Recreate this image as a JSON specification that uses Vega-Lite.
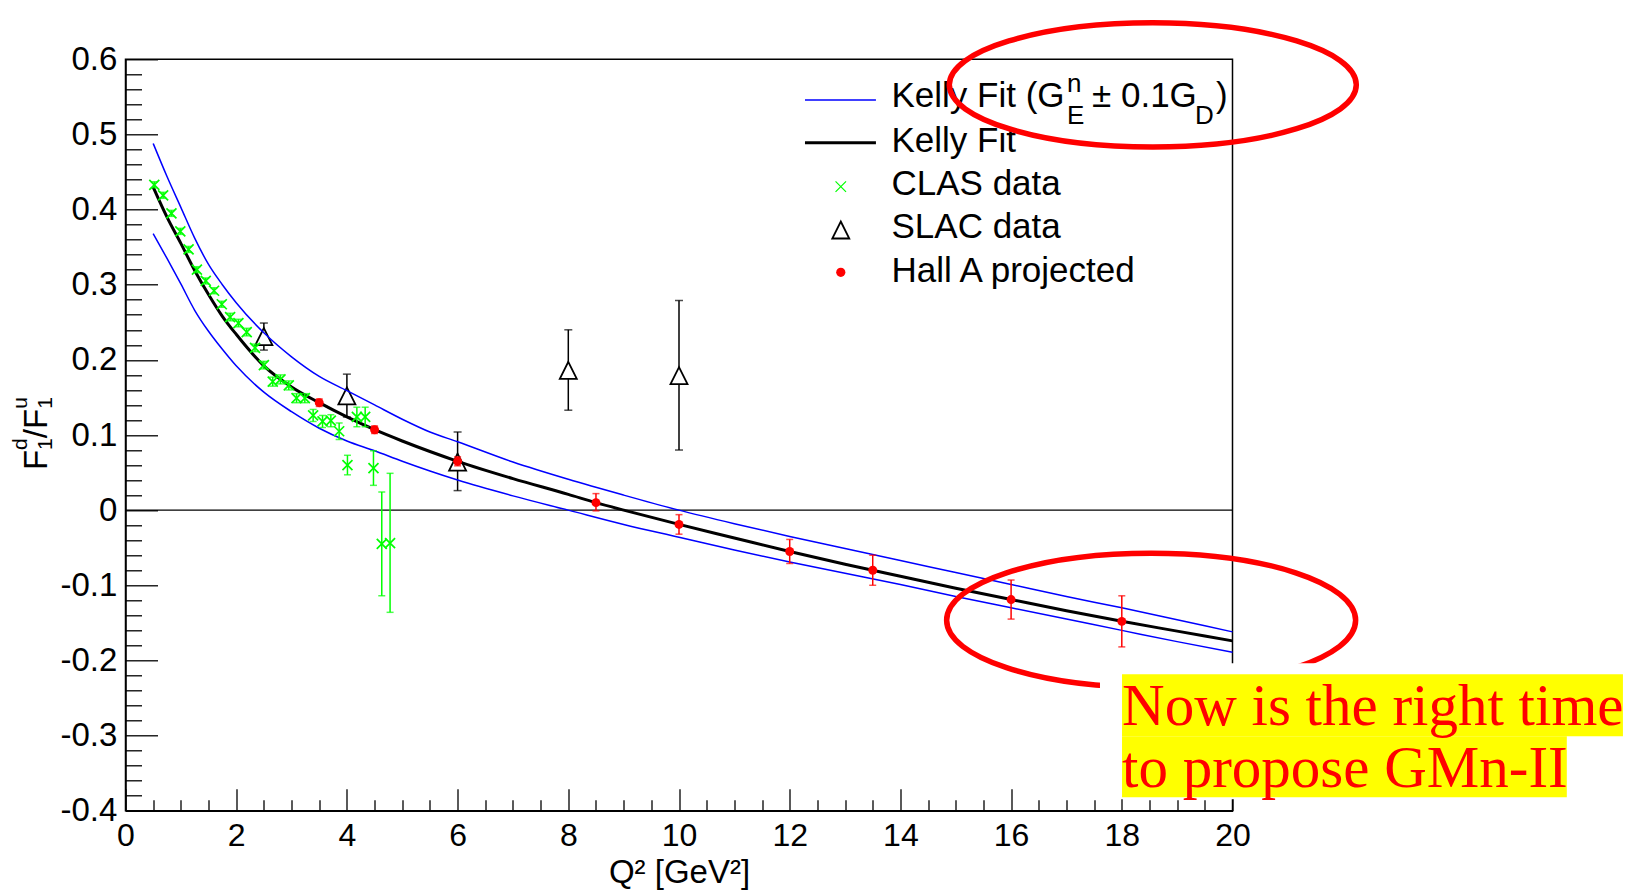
{
  "$schema": "https://vega.github.io/schema/vega-lite/v6.json",
  "width": 1107,
  "height": 751.4,
  "autosize": {"type": "none"},
  "padding": {"left": 125.5, "top": 59.3, "right": 411.5, "bottom": 82.3},
  "background": "white",
  "config": {"view": {"stroke": "black", "strokeWidth": 1.5}, "font": "Liberation Sans"},
  "resolve": {"axis": {"x": "independent", "y": "independent"}},
  "datasets": {
    "curves": [
      {"q2": 0.5, "r": 0.488, "series": "band", "curve": "upper"},
      {"q2": 0.75, "r": 0.444, "series": "band", "curve": "upper"},
      {"q2": 1.0, "r": 0.403, "series": "band", "curve": "upper"},
      {"q2": 1.25, "r": 0.362, "series": "band", "curve": "upper"},
      {"q2": 1.5, "r": 0.327, "series": "band", "curve": "upper"},
      {"q2": 1.75, "r": 0.300, "series": "band", "curve": "upper"},
      {"q2": 2.0, "r": 0.276, "series": "band", "curve": "upper"},
      {"q2": 2.5, "r": 0.236, "series": "band", "curve": "upper"},
      {"q2": 3.0, "r": 0.204, "series": "band", "curve": "upper"},
      {"q2": 3.5, "r": 0.178, "series": "band", "curve": "upper"},
      {"q2": 4.0, "r": 0.159, "series": "band", "curve": "upper"},
      {"q2": 4.5, "r": 0.140, "series": "band", "curve": "upper"},
      {"q2": 5.0, "r": 0.121, "series": "band", "curve": "upper"},
      {"q2": 5.5, "r": 0.104, "series": "band", "curve": "upper"},
      {"q2": 6.0, "r": 0.091, "series": "band", "curve": "upper"},
      {"q2": 7.0, "r": 0.064, "series": "band", "curve": "upper"},
      {"q2": 8.0, "r": 0.041, "series": "band", "curve": "upper"},
      {"q2": 9.0, "r": 0.020, "series": "band", "curve": "upper"},
      {"q2": 10.0, "r": 0.000, "series": "band", "curve": "upper"},
      {"q2": 11.0, "r": -0.018, "series": "band", "curve": "upper"},
      {"q2": 12.0, "r": -0.035, "series": "band", "curve": "upper"},
      {"q2": 13.0, "r": -0.051, "series": "band", "curve": "upper"},
      {"q2": 14.0, "r": -0.067, "series": "band", "curve": "upper"},
      {"q2": 15.0, "r": -0.083, "series": "band", "curve": "upper"},
      {"q2": 16.0, "r": -0.099, "series": "band", "curve": "upper"},
      {"q2": 17.0, "r": -0.115, "series": "band", "curve": "upper"},
      {"q2": 18.0, "r": -0.130, "series": "band", "curve": "upper"},
      {"q2": 19.0, "r": -0.146, "series": "band", "curve": "upper"},
      {"q2": 20.0, "r": -0.162, "series": "band", "curve": "upper"},
      {"q2": 0.5, "r": 0.368, "series": "band", "curve": "lower"},
      {"q2": 0.75, "r": 0.335, "series": "band", "curve": "lower"},
      {"q2": 1.0, "r": 0.301, "series": "band", "curve": "lower"},
      {"q2": 1.25, "r": 0.266, "series": "band", "curve": "lower"},
      {"q2": 1.5, "r": 0.238, "series": "band", "curve": "lower"},
      {"q2": 1.75, "r": 0.214, "series": "band", "curve": "lower"},
      {"q2": 2.0, "r": 0.192, "series": "band", "curve": "lower"},
      {"q2": 2.5, "r": 0.157, "series": "band", "curve": "lower"},
      {"q2": 3.0, "r": 0.131, "series": "band", "curve": "lower"},
      {"q2": 3.5, "r": 0.109, "series": "band", "curve": "lower"},
      {"q2": 4.0, "r": 0.092, "series": "band", "curve": "lower"},
      {"q2": 4.5, "r": 0.079, "series": "band", "curve": "lower"},
      {"q2": 5.0, "r": 0.065, "series": "band", "curve": "lower"},
      {"q2": 5.5, "r": 0.052, "series": "band", "curve": "lower"},
      {"q2": 6.0, "r": 0.040, "series": "band", "curve": "lower"},
      {"q2": 7.0, "r": 0.019, "series": "band", "curve": "lower"},
      {"q2": 8.0, "r": 0.000, "series": "band", "curve": "lower"},
      {"q2": 9.0, "r": -0.019, "series": "band", "curve": "lower"},
      {"q2": 10.0, "r": -0.036, "series": "band", "curve": "lower"},
      {"q2": 11.0, "r": -0.053, "series": "band", "curve": "lower"},
      {"q2": 12.0, "r": -0.069, "series": "band", "curve": "lower"},
      {"q2": 13.0, "r": -0.084, "series": "band", "curve": "lower"},
      {"q2": 14.0, "r": -0.099, "series": "band", "curve": "lower"},
      {"q2": 15.0, "r": -0.115, "series": "band", "curve": "lower"},
      {"q2": 16.0, "r": -0.130, "series": "band", "curve": "lower"},
      {"q2": 17.0, "r": -0.145, "series": "band", "curve": "lower"},
      {"q2": 18.0, "r": -0.160, "series": "band", "curve": "lower"},
      {"q2": 19.0, "r": -0.175, "series": "band", "curve": "lower"},
      {"q2": 20.0, "r": -0.189, "series": "band", "curve": "lower"},
      {"q2": 0.5, "r": 0.430, "series": "fit", "curve": "fit"},
      {"q2": 0.75, "r": 0.390, "series": "fit", "curve": "fit"},
      {"q2": 1.0, "r": 0.355, "series": "fit", "curve": "fit"},
      {"q2": 1.25, "r": 0.319, "series": "fit", "curve": "fit"},
      {"q2": 1.5, "r": 0.287, "series": "fit", "curve": "fit"},
      {"q2": 1.75, "r": 0.258, "series": "fit", "curve": "fit"},
      {"q2": 2.0, "r": 0.234, "series": "fit", "curve": "fit"},
      {"q2": 2.5, "r": 0.192, "series": "fit", "curve": "fit"},
      {"q2": 3.0, "r": 0.164, "series": "fit", "curve": "fit"},
      {"q2": 3.5, "r": 0.143, "series": "fit", "curve": "fit"},
      {"q2": 4.0, "r": 0.124, "series": "fit", "curve": "fit"},
      {"q2": 4.5, "r": 0.107, "series": "fit", "curve": "fit"},
      {"q2": 5.0, "r": 0.092, "series": "fit", "curve": "fit"},
      {"q2": 5.5, "r": 0.078, "series": "fit", "curve": "fit"},
      {"q2": 6.0, "r": 0.065, "series": "fit", "curve": "fit"},
      {"q2": 7.0, "r": 0.042, "series": "fit", "curve": "fit"},
      {"q2": 8.0, "r": 0.021, "series": "fit", "curve": "fit"},
      {"q2": 8.5, "r": 0.010, "series": "fit", "curve": "fit"},
      {"q2": 9.0, "r": 0.000, "series": "fit", "curve": "fit"},
      {"q2": 10.0, "r": -0.019, "series": "fit", "curve": "fit"},
      {"q2": 11.0, "r": -0.037, "series": "fit", "curve": "fit"},
      {"q2": 12.0, "r": -0.055, "series": "fit", "curve": "fit"},
      {"q2": 13.0, "r": -0.072, "series": "fit", "curve": "fit"},
      {"q2": 13.5, "r": -0.080, "series": "fit", "curve": "fit"},
      {"q2": 14.0, "r": -0.088, "series": "fit", "curve": "fit"},
      {"q2": 15.0, "r": -0.104, "series": "fit", "curve": "fit"},
      {"q2": 16.0, "r": -0.119, "series": "fit", "curve": "fit"},
      {"q2": 17.0, "r": -0.134, "series": "fit", "curve": "fit"},
      {"q2": 18.0, "r": -0.148, "series": "fit", "curve": "fit"},
      {"q2": 19.0, "r": -0.161, "series": "fit", "curve": "fit"},
      {"q2": 20.0, "r": -0.174, "series": "fit", "curve": "fit"}
    ],
    "clas": [
      {"q2": 0.52, "r": 0.433, "lo": 0.429, "hi": 0.437},
      {"q2": 0.68, "r": 0.419, "lo": 0.415, "hi": 0.423},
      {"q2": 0.83, "r": 0.395, "lo": 0.391, "hi": 0.399},
      {"q2": 0.99, "r": 0.371, "lo": 0.367, "hi": 0.375},
      {"q2": 1.14, "r": 0.347, "lo": 0.343, "hi": 0.351},
      {"q2": 1.29, "r": 0.320, "lo": 0.316, "hi": 0.324},
      {"q2": 1.45, "r": 0.305, "lo": 0.301, "hi": 0.309},
      {"q2": 1.60, "r": 0.292, "lo": 0.288, "hi": 0.296},
      {"q2": 1.74, "r": 0.274, "lo": 0.270, "hi": 0.278},
      {"q2": 1.89, "r": 0.257, "lo": 0.252, "hi": 0.262},
      {"q2": 2.04, "r": 0.249, "lo": 0.244, "hi": 0.254},
      {"q2": 2.19, "r": 0.237, "lo": 0.232, "hi": 0.242},
      {"q2": 2.34, "r": 0.216, "lo": 0.211, "hi": 0.221},
      {"q2": 2.50, "r": 0.193, "lo": 0.188, "hi": 0.198},
      {"q2": 2.66, "r": 0.171, "lo": 0.165, "hi": 0.177},
      {"q2": 2.80, "r": 0.174, "lo": 0.168, "hi": 0.180},
      {"q2": 2.95, "r": 0.166, "lo": 0.160, "hi": 0.172},
      {"q2": 3.09, "r": 0.149, "lo": 0.143, "hi": 0.155},
      {"q2": 3.24, "r": 0.149, "lo": 0.143, "hi": 0.155},
      {"q2": 3.39, "r": 0.126, "lo": 0.118, "hi": 0.134},
      {"q2": 3.56, "r": 0.118, "lo": 0.110, "hi": 0.126},
      {"q2": 3.71, "r": 0.119, "lo": 0.111, "hi": 0.127},
      {"q2": 3.86, "r": 0.105, "lo": 0.094, "hi": 0.116},
      {"q2": 4.01, "r": 0.060, "lo": 0.047, "hi": 0.073},
      {"q2": 4.18, "r": 0.124, "lo": 0.111, "hi": 0.137},
      {"q2": 4.33, "r": 0.124, "lo": 0.111, "hi": 0.137},
      {"q2": 4.48, "r": 0.056, "lo": 0.033, "hi": 0.079},
      {"q2": 4.63, "r": -0.045, "lo": -0.114, "hi": 0.024},
      {"q2": 4.78, "r": -0.044, "lo": -0.136, "hi": 0.049}
    ],
    "slac": [
      {"q2": 2.5, "r": 0.231, "lo": 0.213, "hi": 0.249},
      {"q2": 4.0, "r": 0.152, "lo": 0.124, "hi": 0.181},
      {"q2": 6.0, "r": 0.064, "lo": 0.026, "hi": 0.104},
      {"q2": 8.0, "r": 0.186, "lo": 0.133, "hi": 0.240},
      {"q2": 10.0, "r": 0.179, "lo": 0.080, "hi": 0.279}
    ],
    "halla": [
      {"q2": 3.5, "r": 0.143, "lo": 0.138, "hi": 0.148},
      {"q2": 4.5, "r": 0.107, "lo": 0.102, "hi": 0.112},
      {"q2": 6.0, "r": 0.065, "lo": 0.059, "hi": 0.071},
      {"q2": 8.5, "r": 0.010, "lo": -0.001, "hi": 0.022},
      {"q2": 10.0, "r": -0.019, "lo": -0.032, "hi": -0.006},
      {"q2": 12.0, "r": -0.055, "lo": -0.071, "hi": -0.039},
      {"q2": 13.5, "r": -0.080, "lo": -0.100, "hi": -0.060},
      {"q2": 16.0, "r": -0.119, "lo": -0.145, "hi": -0.093},
      {"q2": 18.0, "r": -0.148, "lo": -0.182, "hi": -0.114}
    ]
  },
  "layer": [
    {
      "data": {"values": [{}]},
      "mark": {"type": "rule", "color": "black", "strokeWidth": 1.3},
      "encoding": {"y": {"datum": 0, "type": "quantitative", "axis": null}}
    },
    {
      "data": {"name": "slac"},
      "mark": {"type": "errorbar", "ticks": {"size": 8, "thickness": 1.5, "color": "black"}, "rule": {"color": "black", "strokeWidth": 1.5}},
      "encoding": {
        "x": {"field": "q2", "type": "quantitative", "axis": null},
        "y": {"field": "lo", "type": "quantitative", "axis": null},
        "y2": {"field": "hi"}
      }
    },
    {
      "data": {"name": "slac"},
      "mark": {"type": "point", "shape": "M 0 -1 L 1 1 L -1 1 Z", "size": 289, "filled": true, "fill": "white", "stroke": "black", "strokeWidth": 1.8, "opacity": 1},
      "encoding": {
        "x": {"field": "q2", "type": "quantitative", "axis": null},
        "y": {"field": "r", "type": "quantitative", "axis": null}
      }
    },
    {
      "data": {"name": "curves"},
      "mark": {"type": "line", "interpolate": "monotone"},
      "encoding": {
        "x": {
          "field": "q2", "type": "quantitative",
          "scale": {"domain": [0, 20], "nice": false, "zero": false},
          "axis": {
            "orient": "bottom",
            "values": [0, 2, 4, 6, 8, 10, 12, 14, 16, 18, 20],
            "format": "d",
            "tickSize": -22, "tickColor": "black", "tickWidth": 1.3,
            "domainColor": "black", "domainWidth": 1.5,
            "grid": false,
            "labelFont": "Liberation Sans", "labelFontSize": 32, "labelColor": "black",
            "labelPadding": 31.5, "labelOverlap": false, "labelFlush": false, "labelBound": false,
            "title": "Q\u00b2 [GeV\u00b2]",
            "titleFont": "Liberation Sans", "titleFontSize": 33, "titleFontWeight": "normal", "titleColor": "black",
            "titlePadding": 5
          }
        },
        "y": {
          "field": "r", "type": "quantitative",
          "scale": {"domain": [-0.4, 0.6], "nice": false, "zero": false},
          "axis": {
            "orient": "left",
            "values": [-0.4, -0.3, -0.2, -0.1, 0, 0.1, 0.2, 0.3, 0.4, 0.5, 0.6],
            "labelExpr": "(datum.value < 0 ? '-' : '') + (abs(datum.value) < 1e-9 ? '0' : format(abs(datum.value), '.1f'))",
            "tickSize": -32, "tickColor": "black", "tickWidth": 1.3,
            "domainColor": "black", "domainWidth": 1.5,
            "grid": false,
            "labelFont": "Liberation Sans", "labelFontSize": 33, "labelColor": "black",
            "labelPadding": 40.7, "labelOverlap": false, "labelFlush": false, "labelBound": false,
            "title": null
          }
        },
        "color": {
          "field": "series", "type": "nominal",
          "scale": {"domain": ["band", "fit"], "range": ["#0000ff", "#000000"]},
          "legend": null
        },
        "strokeWidth": {"field": "series", "type": "nominal", "scale": {"domain": ["band", "fit"], "range": [1.5, 3]}, "legend": null},
        "detail": {"field": "curve"}
      }
    },
    {
      "data": {"name": "clas"},
      "mark": {"type": "errorbar", "ticks": {"size": 7, "thickness": 1.5, "color": "#00ff00"}, "rule": {"color": "#00ff00", "strokeWidth": 1.5}},
      "encoding": {
        "x": {"field": "q2", "type": "quantitative", "axis": null},
        "y": {"field": "lo", "type": "quantitative", "axis": null},
        "y2": {"field": "hi"}
      }
    },
    {
      "data": {"name": "clas"},
      "mark": {"type": "point", "shape": "M -1 -1 L 1 1 M -1 1 L 1 -1", "size": 100, "filled": false, "stroke": "#00ff00", "strokeWidth": 1.7, "opacity": 1},
      "encoding": {
        "x": {
          "field": "q2", "type": "quantitative",
          "axis": {
            "orient": "bottom",
            "values": [0.5,1,1.5,2.5,3,3.5,4.5,5,5.5,6.5,7,7.5,8.5,9,9.5,10.5,11,11.5,12.5,13,13.5,14.5,15,15.5,16.5,17,17.5,18.5,19,19.5],
            "tickSize": -11, "tickColor": "black", "tickWidth": 1.3,
            "labels": false, "domain": false, "grid": false, "title": null
          }
        },
        "y": {
          "field": "r", "type": "quantitative",
          "axis": {
            "orient": "left",
            "values": [-0.38,-0.36,-0.34,-0.32,-0.28,-0.26,-0.24,-0.22,-0.18,-0.16,-0.14,-0.12,-0.08,-0.06,-0.04,-0.02,0.02,0.04,0.06,0.08,0.12,0.14,0.16,0.18,0.22,0.24,0.26,0.28,0.32,0.34,0.36,0.38,0.42,0.44,0.46,0.48,0.52,0.54,0.56,0.58],
            "tickSize": -16, "tickColor": "black", "tickWidth": 1.3,
            "labels": false, "domain": false, "grid": false, "title": null
          }
        }
      }
    },
    {
      "data": {"name": "halla"},
      "mark": {"type": "errorbar", "ticks": {"size": 7, "thickness": 1.5, "color": "#ff0000"}, "rule": {"color": "#ff0000", "strokeWidth": 1.5}},
      "encoding": {
        "x": {"field": "q2", "type": "quantitative", "axis": null},
        "y": {"field": "lo", "type": "quantitative", "axis": null},
        "y2": {"field": "hi"}
      }
    },
    {
      "data": {"name": "halla"},
      "mark": {"type": "point", "shape": "circle", "size": 80, "filled": true, "color": "#ff0000", "opacity": 1},
      "encoding": {
        "x": {"field": "q2", "type": "quantitative", "axis": null},
        "y": {"field": "r", "type": "quantitative", "axis": null}
      }
    },
    {
      "data": {"values": [{}]},
      "mark": {"type": "text", "text": "F", "angle": -90, "align": "left", "baseline": "alphabetic", "font": "Liberation Sans", "fontSize": 33, "color": "black"},
      "encoding": {
        "x": {"datum": -1.4237, "type": "quantitative", "axis": null},
        "y": {"datum": 0.05326, "type": "quantitative", "axis": null}
      }
    },
    {
      "data": {"values": [{}]},
      "mark": {"type": "text", "text": "d", "angle": -90, "align": "left", "baseline": "alphabetic", "font": "Liberation Sans", "fontSize": 21, "color": "black"},
      "encoding": {
        "x": {"datum": -1.7796, "type": "quantitative", "axis": null},
        "y": {"datum": 0.08016, "type": "quantitative", "axis": null}
      }
    },
    {
      "data": {"values": [{}]},
      "mark": {"type": "text", "text": "1", "angle": -90, "align": "left", "baseline": "alphabetic", "font": "Liberation Sans", "fontSize": 21, "color": "black"},
      "encoding": {
        "x": {"datum": -1.3369, "type": "quantitative", "axis": null},
        "y": {"datum": 0.08016, "type": "quantitative", "axis": null}
      }
    },
    {
      "data": {"values": [{}]},
      "mark": {"type": "text", "text": "/F", "angle": -90, "align": "left", "baseline": "alphabetic", "font": "Liberation Sans", "fontSize": 33, "color": "black"},
      "encoding": {
        "x": {"datum": -1.4237, "type": "quantitative", "axis": null},
        "y": {"datum": 0.09574, "type": "quantitative", "axis": null}
      }
    },
    {
      "data": {"values": [{}]},
      "mark": {"type": "text", "text": "u", "angle": -90, "align": "left", "baseline": "alphabetic", "font": "Liberation Sans", "fontSize": 21, "color": "black"},
      "encoding": {
        "x": {"datum": -1.7796, "type": "quantitative", "axis": null},
        "y": {"datum": 0.13489, "type": "quantitative", "axis": null}
      }
    },
    {
      "data": {"values": [{}]},
      "mark": {"type": "text", "text": "1", "angle": -90, "align": "left", "baseline": "alphabetic", "font": "Liberation Sans", "fontSize": 21, "color": "black"},
      "encoding": {
        "x": {"datum": -1.3369, "type": "quantitative", "axis": null},
        "y": {"datum": 0.13489, "type": "quantitative", "axis": null}
      }
    },
    {
      "data": {"values": [{}]},
      "mark": {"type": "rule", "color": "#0000ff", "strokeWidth": 1.5},
      "encoding": {
        "x": {"datum": 12.276, "type": "quantitative", "axis": null},
        "x2": {"datum": 13.558},
        "y": {"datum": 0.5459, "type": "quantitative", "axis": null}
      }
    },
    {
      "data": {"values": [{}]},
      "mark": {"type": "rule", "color": "#000000", "strokeWidth": 3},
      "encoding": {
        "x": {"datum": 12.276, "type": "quantitative", "axis": null},
        "x2": {"datum": 13.558},
        "y": {"datum": 0.4891, "type": "quantitative", "axis": null}
      }
    },
    {
      "data": {"values": [{}]},
      "mark": {"type": "point", "shape": "M -1 -1 L 1 1 M -1 1 L 1 -1", "size": 110, "filled": false, "stroke": "#00ff00", "strokeWidth": 1.2, "opacity": 1},
      "encoding": {
        "x": {"datum": 12.923, "type": "quantitative", "axis": null},
        "y": {"datum": 0.4305, "type": "quantitative", "axis": null}
      }
    },
    {
      "data": {"values": [{}]},
      "mark": {"type": "point", "shape": "M 0 -1 L 1 1 L -1 1 Z", "size": 289, "filled": false, "stroke": "black", "strokeWidth": 1.8, "opacity": 1},
      "encoding": {
        "x": {"datum": 12.923, "type": "quantitative", "axis": null},
        "y": {"datum": 0.3728, "type": "quantitative", "axis": null}
      }
    },
    {
      "data": {"values": [{}]},
      "mark": {"type": "point", "shape": "circle", "size": 85, "filled": true, "color": "#ff0000", "opacity": 1},
      "encoding": {
        "x": {"datum": 12.923, "type": "quantitative", "axis": null},
        "y": {"datum": 0.3165, "type": "quantitative", "axis": null}
      }
    },
    {
      "data": {"values": [{}]},
      "mark": {"type": "text", "text": "Kelly Fit (G", "align": "left", "baseline": "alphabetic", "font": "Liberation Sans", "fontSize": 35, "color": "black"},
      "encoding": {
        "x": {"datum": 13.839, "type": "quantitative", "axis": null},
        "y": {"datum": 0.5362, "type": "quantitative", "axis": null}
      }
    },
    {
      "data": {"values": [{}]},
      "mark": {"type": "text", "text": "\u00b1 0.1G", "align": "left", "baseline": "alphabetic", "font": "Liberation Sans", "fontSize": 35, "color": "black"},
      "encoding": {
        "x": {"datum": 17.462, "type": "quantitative", "axis": null},
        "y": {"datum": 0.5362, "type": "quantitative", "axis": null}
      }
    },
    {
      "data": {"values": [{}]},
      "mark": {"type": "text", "text": ")", "align": "left", "baseline": "alphabetic", "font": "Liberation Sans", "fontSize": 35, "color": "black"},
      "encoding": {
        "x": {"datum": 19.702, "type": "quantitative", "axis": null},
        "y": {"datum": 0.5362, "type": "quantitative", "axis": null}
      }
    },
    {
      "data": {"values": [{}]},
      "mark": {"type": "text", "text": "n", "align": "left", "baseline": "alphabetic", "font": "Liberation Sans", "fontSize": 26, "color": "black"},
      "encoding": {
        "x": {"datum": 17.01, "type": "quantitative", "axis": null},
        "y": {"datum": 0.5566, "type": "quantitative", "axis": null}
      }
    },
    {
      "data": {"values": [{}]},
      "mark": {"type": "text", "text": "E", "align": "left", "baseline": "alphabetic", "font": "Liberation Sans", "fontSize": 26, "color": "black"},
      "encoding": {
        "x": {"datum": 17.01, "type": "quantitative", "axis": null},
        "y": {"datum": 0.514, "type": "quantitative", "axis": null}
      }
    },
    {
      "data": {"values": [{}]},
      "mark": {"type": "text", "text": "D", "align": "left", "baseline": "alphabetic", "font": "Liberation Sans", "fontSize": 26, "color": "black"},
      "encoding": {
        "x": {"datum": 19.322, "type": "quantitative", "axis": null},
        "y": {"datum": 0.514, "type": "quantitative", "axis": null}
      }
    },
    {
      "data": {"values": [{}]},
      "mark": {"type": "text", "text": ["Kelly Fit", "CLAS data", "SLAC data", "Hall A projected"], "lineHeight": 43.3, "align": "left", "baseline": "alphabetic", "font": "Liberation Sans", "fontSize": 35, "color": "black"},
      "encoding": {
        "x": {"datum": 13.839, "type": "quantitative", "axis": null},
        "y": {"datum": 0.4771, "type": "quantitative", "axis": null}
      }
    },
    {
      "data": {"values": [{}]},
      "mark": {"type": "point", "shape": "M -1 0 C -1 -0.1684 -0.5523 -0.305 0 -0.305 C 0.5523 -0.305 1 -0.1684 1 0 C 1 0.1684 0.5523 0.305 0 0.305 C -0.5523 0.305 -1 0.1684 -1 0 Z", "size": 165649, "filled": false, "stroke": "#ff0000", "strokeWidth": 5.5, "opacity": 1},
      "encoding": {
        "x": {"datum": 18.56, "type": "quantitative", "axis": null},
        "y": {"datum": 0.566, "type": "quantitative", "axis": null}
      }
    },
    {
      "data": {"values": [{}]},
      "mark": {"type": "point", "shape": "M -1 0 C -1 -0.1812 -0.5523 -0.328 0 -0.328 C 0.5523 -0.328 1 -0.1812 1 0 C 1 0.1812 0.5523 0.328 0 0.328 C -0.5523 0.328 -1 0.1812 -1 0 Z", "size": 167281, "filled": false, "stroke": "#ff0000", "strokeWidth": 5.5, "opacity": 1},
      "encoding": {
        "x": {"datum": 18.53, "type": "quantitative", "axis": null},
        "y": {"datum": -0.1465, "type": "quantitative", "axis": null}
      }
    },
    {
      "data": {"values": [{}]},
      "mark": {"type": "rect", "color": "white"},
      "encoding": {
        "x": {"datum": 17.606, "type": "quantitative", "axis": null},
        "x2": {"datum": 27.6},
        "y": {"datum": -0.2037, "type": "quantitative", "axis": null},
        "y2": {"datum": -0.3848}
      }
    },
    {
      "data": {"values": [{}]},
      "mark": {"type": "rect", "color": "#ffff00"},
      "encoding": {
        "x": {"datum": 18.004, "type": "quantitative", "axis": null},
        "x2": {"datum": 27.054},
        "y": {"datum": -0.2184, "type": "quantitative", "axis": null},
        "y2": {"datum": -0.3009}
      }
    },
    {
      "data": {"values": [{}]},
      "mark": {"type": "rect", "color": "#ffff00"},
      "encoding": {
        "x": {"datum": 18.004, "type": "quantitative", "axis": null},
        "x2": {"datum": 26.04},
        "y": {"datum": -0.3009, "type": "quantitative", "axis": null},
        "y2": {"datum": -0.3822}
      }
    },
    {
      "data": {"values": [{}]},
      "mark": {"type": "text", "text": ["Now is the right time", "to propose GMn-II"], "lineHeight": 61.7, "align": "left", "baseline": "alphabetic", "font": "Liberation Serif", "fontSize": 59, "color": "#ff0000"},
      "encoding": {
        "x": {"datum": 18.004, "type": "quantitative", "axis": null},
        "y": {"datum": -0.2863, "type": "quantitative", "axis": null}
      }
    }
  ]
}
